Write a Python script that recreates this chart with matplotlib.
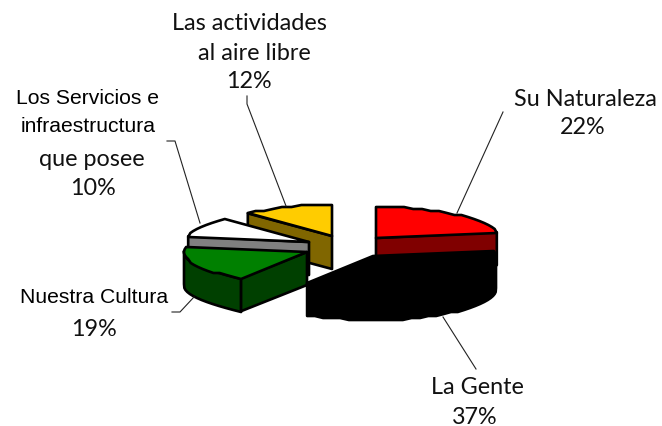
import matplotlib
matplotlib.use('Agg')
import matplotlib.pyplot as plt
import numpy as np

# slice data, clockwise from the top
categories = ['Su Naturaleza', 'La Gente', 'Nuestra Cultura', 'Servicios', 'Actividades']
values = [22, 37, 19, 10, 12]
top_colors = ['#ff0000', '#000000', '#008000', '#ffffff', '#ffcc00']
side_colors = ['#800000', '#000000', '#004000', '#808080', '#806600']

# exploded slice centres in pixels, and ellipse shape
centres = [(376, 239), (373, 257), (307, 253), (309, 243), (332, 237)]
RX, RY, DEPTH = 123, 31, 33
draw_order = [4, 3, 2, 0, 1]
OUTLINE = 1.9


def arc(centre, a, b):
    # coarse steps give the same bumpy edge as the low-res original
    n = max(2, int((b - a) / 4))
    t = np.radians(np.linspace(a, b, n))
    x = centre[0] + RX * np.sin(t)
    y = centre[1] - RY * np.cos(t)
    return x, np.round(y / 2) * 2


def draw_slice(ax, centre, a, b, top, side):
    cx, cy = centre
    # curved outer wall, only the front half can be seen
    lo, hi = max(a, 90), min(b, 270)
    if lo < hi:
        x, y = arc(centre, lo, hi)
        ax.fill(np.r_[x, x[::-1]], np.r_[y, y[::-1] + DEPTH], facecolor=side,
                edgecolor='black', linewidth=OUTLINE, joinstyle='round')
    # flat cut face
    edge = None
    if a > 180:
        edge = a
    elif b < 180:
        edge = b
    if edge is not None:
        ex = cx + RX * np.sin(np.radians(edge))
        ey = cy - RY * np.cos(np.radians(edge))
        ax.fill([cx, ex, ex, cx], [cy, ey, ey + DEPTH, cy + DEPTH],
                facecolor=side, edgecolor='black', linewidth=OUTLINE, joinstyle='round')
    # top of the slice
    x, y = arc(centre, a, b)
    ax.fill(np.r_[cx, x], np.r_[cy, y], facecolor=top, edgecolor='black',
            linewidth=OUTLINE, joinstyle='round')


fig = plt.figure(figsize=(6.62, 4.27), dpi=100)
ax = fig.add_axes([0, 0, 1, 1])
ax.set_xlim(0, 662)
ax.set_ylim(427, 0)
ax.axis('off')

edges = np.cumsum([0] + values) / sum(values) * 360
for i in draw_order:
    draw_slice(ax, centres[i], edges[i], edges[i + 1], top_colors[i], side_colors[i])

# leader lines
leaders = [
    ([503, 457], [113, 214]),
    ([476, 443], [370, 318]),
    ([172, 180, 194], [313, 313, 298]),
    ([167, 175, 200], [142, 142, 224]),
    ([247, 247, 286], [97, 105, 207]),
]
for lx, ly in leaders:
    ax.plot(lx, ly, color='#222222', linewidth=0.8)

# labels: two typefaces, as in the original
serif_like = dict(family='Lato', fontsize=16.8, ha='center', va='center', color='#111111')
arial = dict(family='Liberation Sans', fontsize=15.2, ha='center', va='center', color='black')

ax.text(249, 24, 'Las actividades', **serif_like)
ax.text(254, 53, 'al aire libre', **serif_like)
ax.text(249, 82, '12%', **serif_like)
ax.text(88, 98, 'Los Servicios e', **arial)
ax.text(88, 127, 'infraestructura', **arial)
ax.text(92, 160, 'que posee', **serif_like)
ax.text(93, 189, '10%', **serif_like)
ax.text(585, 99, 'Su Naturaleza', **serif_like)
ax.text(583, 128, '22%', **serif_like)
ax.text(94, 298, 'Nuestra Cultura', **arial)
ax.text(94, 330, '19%', **serif_like)
ax.text(477, 388, 'La Gente', **serif_like)
ax.text(475, 418, '37%', **serif_like)

fig.savefig('out.png', dpi=100)
